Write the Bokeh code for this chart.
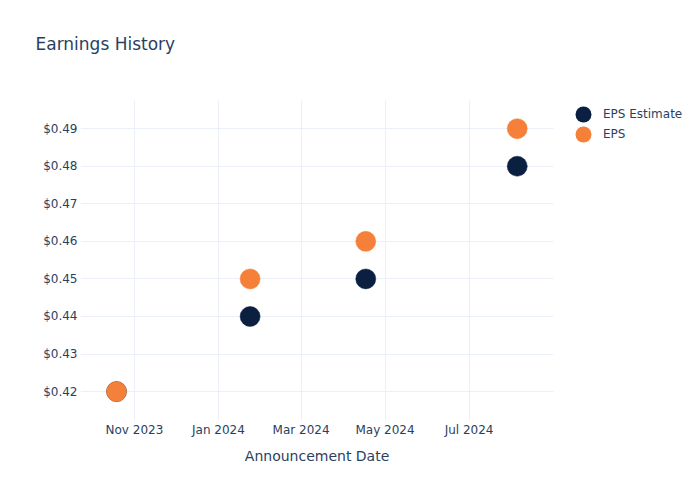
import numpy as np
import pandas as pd
from bokeh.plotting import figure
from bokeh.models import (Range1d, FixedTicker, NumeralTickFormatter, DatetimeTickFormatter,
                          Legend, LegendItem, ColumnDataSource, BoxAnnotation)
from bokeh.embed import file_html
from bokeh.resources import INLINE

# ---- data ----
dates = ["2023-10-19", "2024-01-24", "2024-04-17", "2024-08-05"]
eps_estimate = [0.42, 0.44, 0.45, 0.48]
eps_actual = [0.42, 0.45, 0.46, 0.49]
x_tick_dates = ["2023-11-01", "2024-01-01", "2024-03-01", "2024-05-01", "2024-07-01"]
y_ticks = [0.42, 0.43, 0.44, 0.45, 0.46, 0.47, 0.48, 0.49]
series_names = ["EPS Estimate", "EPS"]

FONT = "DejaVu Sans"
TXT = "#2a3f5f"
GRID = "#ebf0f8"
NAVY = "#0b1f41"
ORANGE = "#f5803a"

dt = pd.to_datetime(dates)
x_ms = [d.timestamp() * 1000 for d in dt]
tick_ms = [pd.Timestamp(d).timestamp() * 1000 for d in x_tick_dates]

# visible data area (plot area of the reference); the frame is extended right/up
# to host the legend, and the extension is covered in white
x_start = pd.Timestamp("2023-09-22 20:00").timestamp() * 1000
x_end = pd.Timestamp("2024-08-31 08:00").timestamp() * 1000
y_lo, y_hi = 0.4123, 0.4975
PLOT_W, FRAME_W = 473, 620     # px
PLOT_H, FRAME_H = 320, 362     # px
x_frame_end = x_start + (x_end - x_start) * FRAME_W / PLOT_W
y_frame_top = y_lo + (y_hi - y_lo) * FRAME_H / PLOT_H

p = figure(width=700, height=500, output_backend="svg", toolbar_location=None,
           x_axis_type="datetime",
           x_range=Range1d(x_start, x_frame_end), y_range=Range1d(y_lo, y_frame_top),
           min_border_left=80, min_border_right=0, min_border_top=58, min_border_bottom=80,
           title="Earnings History")
p.outline_line_color = None
p.background_fill_color = "white"
p.border_fill_color = "white"

p.title.text_font = FONT
p.title.text_font_size = "17px"
p.title.text_font_style = "normal"
p.title.text_color = TXT
p.title.align = "left"
p.title.offset = -45
p.title.standoff = 10

src_est = ColumnDataSource(dict(x=x_ms, y=eps_estimate))
src_act = ColumnDataSource(dict(x=x_ms, y=eps_actual))
r_est = p.scatter("x", "y", source=src_est, size=20, fill_color=NAVY, line_color=NAVY, line_width=0.5)
r_act = p.scatter("x", "y", source=src_act, size=20, fill_color=ORANGE, line_color=ORANGE, line_width=0.5)

# legend swatches: invisible (NaN) ellipses with screen-unit size, drawn as dots in the legend
nan = np.array([np.nan])
sw_est = p.ellipse(x=nan, y=nan, width=1, height=1, width_units="screen", height_units="screen",
                   fill_color=NAVY, line_color=None)
sw_act = p.ellipse(x=nan, y=nan, width=1, height=1, width_units="screen", height_units="screen",
                   fill_color=ORANGE, line_color=None)

# axes
p.xaxis.ticker = FixedTicker(ticks=tick_ms)
p.xaxis.formatter = DatetimeTickFormatter(months="%b %Y", days="%b %Y", years="%b %Y")
p.xaxis.bounds = (x_start, x_end)
p.yaxis.ticker = FixedTicker(ticks=y_ticks)
p.yaxis.formatter = NumeralTickFormatter(format="$0.00")
p.yaxis.bounds = (y_lo, y_hi)
for ax in (p.xaxis, p.yaxis):
    ax.axis_line_color = None
    ax.major_tick_line_color = None
    ax.minor_tick_line_color = None
    ax.major_tick_out = 0
    ax.major_tick_in = 0
    ax.minor_tick_out = 0
    ax.minor_tick_in = 0
    ax.major_label_text_font = FONT
    ax.major_label_text_font_size = "12px"
    ax.major_label_text_color = TXT
p.xaxis.major_label_standoff = 2
p.yaxis.major_label_standoff = 3
# label is centred on the extended frame; trailing no-break spaces shift it over the data area
p.xaxis.axis_label = "Announcement Date" + "\u00a0" * 33
p.xaxis.axis_label_text_font = FONT
p.xaxis.axis_label_text_font_size = "14px"
p.xaxis.axis_label_text_font_style = "normal"
p.xaxis.axis_label_text_color = TXT
p.xaxis.axis_label_standoff = 8

p.xgrid.grid_line_color = GRID
p.ygrid.grid_line_color = GRID
p.xgrid.grid_line_width = 1
p.ygrid.grid_line_width = 1

# white covers for the frame extension (legend area right, margin above)
p.add_layout(BoxAnnotation(left=x_end, fill_color="white", fill_alpha=1.0, line_color=None))
p.add_layout(BoxAnnotation(bottom=y_hi, fill_color="white", fill_alpha=1.0, line_color=None))

legend = Legend(items=[LegendItem(label=series_names[0], renderers=[sw_est]),
                       LegendItem(label=series_names[1], renderers=[sw_act])],
                location=(493, 276), glyph_width=20, glyph_height=20,
                label_standoff=10, padding=0, margin=0, spacing=0,
                border_line_color=None, background_fill_alpha=0,
                label_text_font=FONT, label_text_font_size="12px", label_text_color=TXT,
                label_height=20)
p.add_layout(legend)

open("out.html", "w").write(file_html(p, INLINE))
